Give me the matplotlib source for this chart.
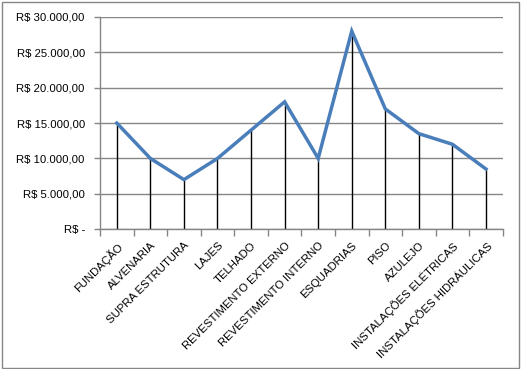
import numpy as np
import matplotlib.pyplot as plt
from matplotlib.ticker import FuncFormatter, FixedLocator

etapas = ["FUNDAÇÃO", "ALVENARIA", "SUPRA ESTRUTURA", "LAJES", "TELHADO",
          "REVESTIMENTO EXTERNO", "REVESTIMENTO INTERNO", "ESQUADRIAS", "PISO",
          "AZULEJO", "INSTALAÇÕES ELÉTRICAS", "INSTALAÇÕES HIDRÁULICAS"]
custos = [15000, 10000, 7000, 10000, 14000, 18000, 10000, 28000, 17000,
          13500, 12000, 8500]

plt.rcParams['font.family'] = ['Liberation Sans', 'DejaVu Sans']

cor_linha = "#4a7ebb"
cor_eixo = "#868686"


def reais(v, pos):
    if v == 0:
        return "R$ -"
    s = f"{v:,.2f}".replace(",", "X").replace(".", ",").replace("X", ".")
    return "R$ " + s


fig = plt.figure(figsize=(5.21, 3.69), dpi=100)
ax = fig.add_axes([0.192, 0.379, 0.773, 0.575])

x = np.arange(len(etapas))
ax.vlines(x, 0, custos, color="black", linewidth=1, zorder=2)
ax.plot(x, custos, color=cor_linha, linewidth=2.5, zorder=3, solid_joinstyle="miter")

ax.set_xlim(-0.5, len(etapas) - 0.5)
ax.set_ylim(0, 30000)
ax.set_yticks(np.arange(0, 30001, 5000))
ax.yaxis.set_major_formatter(FuncFormatter(reais))
ax.yaxis.grid(True, color=cor_eixo, linewidth=1)
ax.set_axisbelow(True)

ax.set_xticks(x)
ax.set_xticklabels(etapas, rotation=45, ha="right", va="top", rotation_mode="anchor")
ax.xaxis.set_minor_locator(FixedLocator(np.arange(-0.5, len(etapas), 1)))
ax.tick_params(axis="x", which="major", length=0, pad=8, labelsize=8.2)
ax.tick_params(axis="x", which="minor", length=5, color=cor_eixo, width=1)
ax.tick_params(axis="y", length=4, color=cor_eixo, width=1, pad=7, labelsize=8.2)

for lado in ["top", "right"]:
    ax.spines[lado].set_visible(False)
for lado in ["left", "bottom"]:
    ax.spines[lado].set_color(cor_eixo)
    ax.spines[lado].set_linewidth(1)

fig.patches.append(plt.Rectangle((0.004, 0.004), 0.992, 0.99, transform=fig.transFigure,
                                 fill=False, edgecolor=cor_eixo, linewidth=1))

fig.savefig("out.png", dpi=100)
